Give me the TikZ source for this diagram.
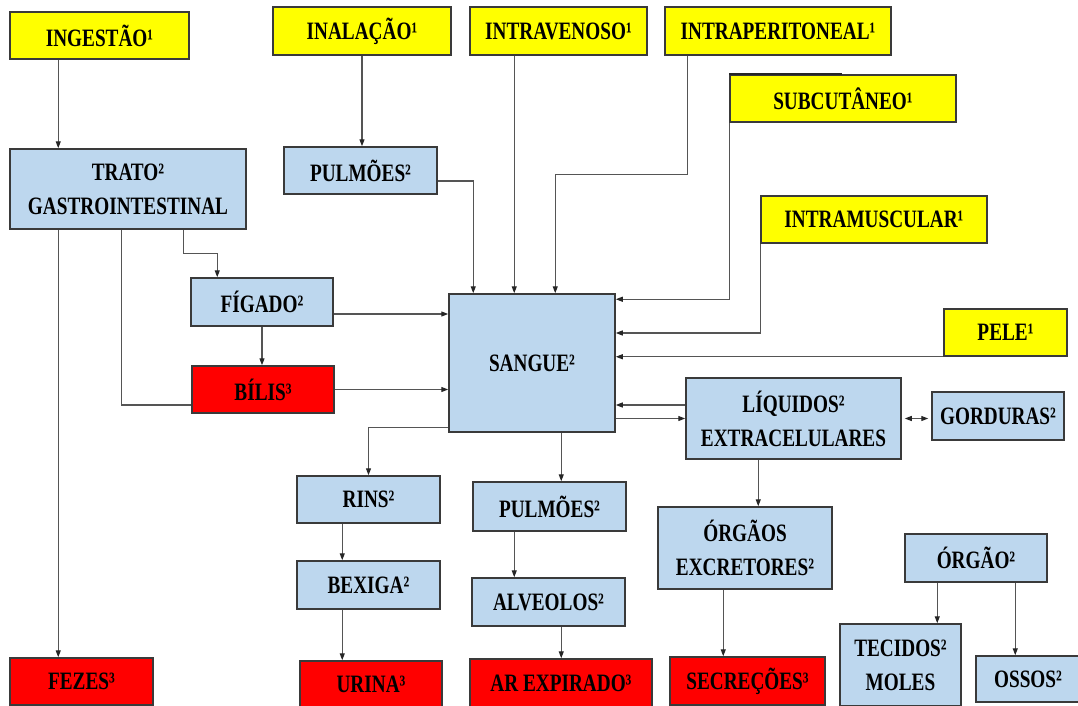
\documentclass[tikz,border=0pt]{standalone}
\usepackage{fontspec}
\setmainfont{Liberation Serif}[FakeStretch=0.77]
\usetikzlibrary{arrows.meta}

\definecolor{amarelo}{HTML}{FFFF00}
\definecolor{azul}{HTML}{BDD7EE}
\definecolor{vermelho}{HTML}{FF0000}
\definecolor{borda}{HTML}{3A3A3A}
\definecolor{linha}{HTML}{555555}

\begin{document}
\begin{tikzpicture}[x=1pt,y=-1pt,
	>={Triangle[length=7pt,width=5pt,color=black!85]},
	caixa/.style={draw=borda, line width=1.5pt, inner sep=0pt, align=center,
		font=\fontsize{25}{34}\selectfont\bfseries},
	viabox/.style={caixa, fill=amarelo},
	orgbox/.style={caixa, fill=azul},
	saidabox/.style={caixa, fill=vermelho},
	fio/.style={draw=linha, line width=1.2pt},
	seta/.style={fio, ->}]
		\useasboundingbox (0,0) rectangle (1078,706);
		
		% vias de entrada
		\node[viabox, minimum width=179pt, minimum height=47pt] (ingestao) at (99.5,35.5) {INGESTÃO¹};
		\node[viabox, minimum width=178pt, minimum height=48pt] (inalacao) at (362,31) {INALAÇÃO¹};
		\node[viabox, minimum width=177pt, minimum height=48pt] (intraven) at (558.5,31) {INTRAVENOSO¹};
		\node[viabox, minimum width=226pt, minimum height=48pt] (intraper) at (778,31) {INTRAPERITONEAL¹};
		\node[viabox, minimum width=226pt, minimum height=47pt] (subcut) at (843,98.5) {SUBCUTÂNEO¹};
		\node[viabox, minimum width=226pt, minimum height=47pt] (intramusc) at (874,219.5) {INTRAMUSCULAR¹};
		\node[viabox, minimum width=123pt, minimum height=47pt] (pele) at (1005.5,332.5) {PELE¹};
		\draw[line width=2pt, black!85] (subcut.north west) -- ++(113,0);
		
		% orgaos
		\node[orgbox, minimum width=236pt, minimum height=80pt] (trato) at (128,189) {TRATO²\\GASTROINTESTINAL};
		\node[orgbox, minimum width=153pt, minimum height=47pt] (pulm1) at (360.5,170.5) {PULMÕES²};
		\node[orgbox, minimum width=142pt, minimum height=48pt] (figado) at (262,302) {FÍGADO²};
		\node[orgbox, minimum width=166pt, minimum height=138pt] (sangue) at (532,363) {SANGUE²};
		\node[orgbox, minimum width=215pt, minimum height=81pt] (liquidos) at (793.5,418.5) {LÍQUIDOS²\\EXTRACELULARES};
		\node[orgbox, minimum width=132pt, minimum height=48pt] (gorduras) at (998,416) {GORDURAS²};
		\node[orgbox, minimum width=143pt, minimum height=47pt] (rins) at (368.5,499.5) {RINS²};
		\node[orgbox, minimum width=143pt, minimum height=48pt] (bexiga) at (368.5,585) {BEXIGA²};
		\node[orgbox, minimum width=153pt, minimum height=49pt] (pulm2) at (549.5,506.5) {PULMÕES²};
		\node[orgbox, minimum width=153pt, minimum height=48pt] (alveolos) at (548.5,602) {ALVEOLOS²};
		\node[orgbox, minimum width=174pt, minimum height=82pt] (orgexc) at (745,548) {ÓRGÃOS\\EXCRETORES²};
		\node[orgbox, minimum width=142pt, minimum height=48pt] (orgao) at (976,558) {ÓRGÃO²};
		\node[orgbox, minimum width=121pt, minimum height=82pt] (tecidos) at (900.5,665) {TECIDOS²\\MOLES};
		\node[orgbox, minimum width=104pt, minimum height=46pt] (ossos) at (1028,679) {OSSOS²};
		
		% excrecao
		\node[saidabox, minimum width=142pt, minimum height=47pt] (bilis) at (263,389.5) {BÍLIS³};
		\node[saidabox, minimum width=143pt, minimum height=47pt] (fezes) at (81.5,681.5) {FEZES³};
		\node[saidabox, minimum width=142pt, minimum height=47pt] (urina) at (371,684.5) {URINA³};
		\node[saidabox, minimum width=182pt, minimum height=48pt] (arexp) at (561,683) {AR EXPIRADO³};
		\node[saidabox, minimum width=155pt, minimum height=48pt] (secrecoes) at (747.5,681) {SECREÇÕES³};
		
		% entradas no sangue
		\draw[seta] ([xshift=49pt]ingestao.south west) -- ([xshift=49pt]trato.north west);
		\draw[seta] (inalacao.south) -- (inalacao.south |- pulm1.north);
		\coordinate (p1) at ([yshift=-10.5pt]pulm1.east);
		\draw[seta] (p1) -| ([xshift=25pt]sangue.north west);
		\coordinate (iv) at ([xshift=45pt]intraven.south west);
		\draw[seta] (iv) -- (iv |- sangue.north);
		\coordinate (ip) at ([xshift=23pt]intraper.south west);
		\draw[seta] (ip) -- ++(0,119) -| ([xshift=107pt]sangue.north west);
		\draw[seta] (subcut.south west) |- ([yshift=-6pt]sangue.north east);
		\draw[seta] (intramusc.south west) |- ([yshift=30pt]sangue.east);
		\draw[seta] (pele.south west) -- (pele.south west -| sangue.east);
		
		% trato e figado
		\coordinate (t1) at ([xshift=49pt]trato.south west);
		\draw[seta] (t1) -- (t1 |- fezes.north);
		\coordinate (t2) at ([xshift=112pt]trato.south west);
		\draw[fio] (t2) |- ([yshift=-15.5pt]bilis.west);
		\coordinate (t3) at ([xshift=174pt]trato.south west);
		\draw[seta] (t3) -- ++(0,24) -| ([xshift=27pt]figado.north west);
		\draw[seta] (figado.south) -- (figado.south |- bilis.north);
		\coordinate (f1) at ([yshift=-12pt]figado.east);
		\draw[seta] (f1) -- (f1 -| sangue.west);
		\draw[seta] (bilis.east) -- (bilis.east -| sangue.west);
		
		% sangue e liquidos
		\coordinate (l1) at ([yshift=13.5pt]liquidos.west);
		\draw[seta] (l1) -- (l1 -| sangue.east);
		\draw[seta] (liquidos.west -| sangue.east) -- (liquidos.west);
		\draw[fio, <->, shorten <=3pt, shorten >=3pt] (liquidos.east) -- (liquidos.east -| gorduras.west);
		\coordinate (l2) at ([xshift=73pt]liquidos.south west);
		\draw[seta] (l2) -- (l2 |- orgexc.north);
		\draw[seta] ([yshift=5pt]sangue.south west) -| (rins.north);
		\coordinate (s1) at ([xshift=113pt]sangue.south west);
		\draw[seta] (s1) -- (s1 |- pulm2.north);
		
		% eliminacao
		\coordinate (r1) at ([xshift=46pt]rins.south west);
		\draw[seta] (r1) -- (r1 |- bexiga.north);
		\coordinate (b1) at ([xshift=46pt]bexiga.south west);
		\draw[seta] (b1) -- (b1 |- urina.north);
		\coordinate (pm) at ([xshift=42pt]pulm2.south west);
		\draw[seta] (pm) -- (pm |- alveolos.north);
		\coordinate (al) at ([xshift=90pt]alveolos.south west);
		\draw[seta] (al) -- (al |- arexp.north);
		\coordinate (oe) at ([xshift=66pt]orgexc.south west);
		\draw[seta] (oe) -- (oe |- secrecoes.north);
		\coordinate (o1) at ([xshift=33pt]orgao.south west);
		\draw[seta] (o1) -- (o1 |- tecidos.north);
		\coordinate (o2) at ([xshift=111pt]orgao.south west);
		\draw[seta] (o2) -- (o2 |- ossos.north);
	\end{tikzpicture}
\end{document}
